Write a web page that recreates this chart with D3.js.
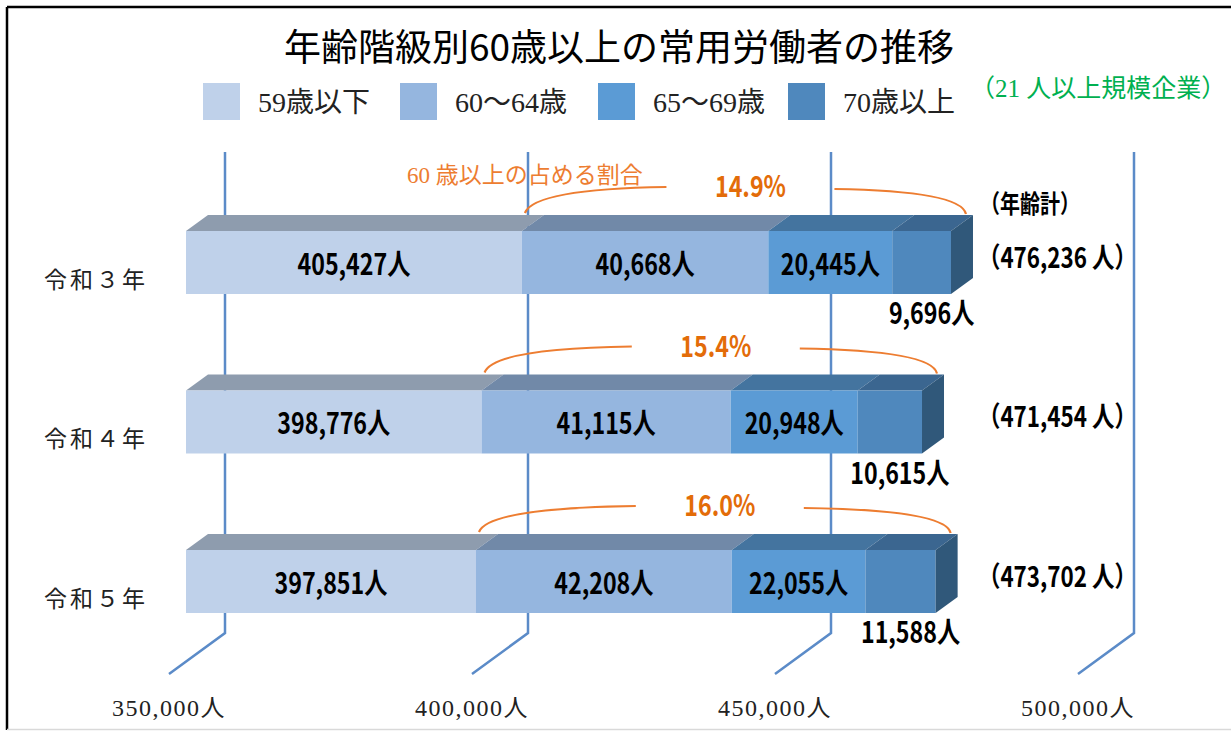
<!DOCTYPE html>
<html>
<head>
<meta charset="utf-8">
<script src="https://cdn.jsdelivr.net/npm/d3@7"></script>
<style>
body { margin: 0; background: #fff; }
svg { display: block; }
.serif { font-family: "Liberation Serif", "Noto Sans CJK JP", serif; }
.gothic { font-family: "Noto Sans CJK JP", sans-serif; font-weight: bold; }
</style>
</head>
<body>
<svg id="chart" width="1231" height="731"></svg>
<script>
// data
var years = ["令和３年", "令和４年", "令和５年"];
var seriesNames = ["59歳以下", "60～64歳", "65～69歳", "70歳以上"];
var under59 = [405427, 398776, 397851];
var age60to64 = [40668, 41115, 42208];
var age65to69 = [20445, 20948, 22055];
var over70 = [9696, 10615, 11588];
var tickValues = [350000, 400000, 450000, 500000];

var frontColors = ["#bfd1ea", "#95b6df", "#5b9bd5", "#4f88bd"];
var topColors = ["#8e9cae", "#7189a8", "#44749f", "#3b6690"];
var sideColor = "#30587a";
var orange = "#ed7d31";
var pctOrange = "#e36c09";

var rows = years.map(function (y, i) {
    return { year: y, s0: under59[i], s1: age60to64[i], s2: age65to69[i], s3: over70[i] };
});
var stack = d3.stack().keys(["s0", "s1", "s2", "s3"]);
var layers = stack(rows);

var svg = d3.select("#chart");

// narrow bold gothic text (squeezed horizontally like the original font)
function gothic(parent, px, py, anchor, size, fill, txt) {
    parent.append("g")
        .attr("transform", "translate(" + px + "," + py + ") scale(0.8,1)")
        .append("text").attr("class", "gothic")
        .attr("text-anchor", anchor).attr("dominant-baseline", "central")
        .attr("font-size", size).attr("fill", fill)
        .text(txt);
}

// frame
svg.append("line").attr("x1", 7).attr("y1", 7).attr("x2", 1231).attr("y2", 7)
    .attr("stroke", "#000").attr("stroke-width", 2.5);
svg.append("line").attr("x1", 7).attr("y1", 7).attr("x2", 7).attr("y2", 730)
    .attr("stroke", "#000").attr("stroke-width", 2.5);
svg.append("line").attr("x1", 7).attr("y1", 729.5).attr("x2", 1231).attr("y2", 729.5)
    .attr("stroke", "#d9d9d9").attr("stroke-width", 1.5);

// scales (front face of bars)
var x = d3.scaleLinear().domain([350000, 500000]).range([186, 1095]);
var y = d3.scalePoint().domain(years).range([231, 550]);
var barH = 63;
var dx = 22, dy = -16;        // bar depth
var wallDx = 39;              // back wall offset from bar front
var gridTop = 152, gridBottom = 633;
var floorDx = -56, floorDy = 41;

// title
svg.append("text").attr("x", 619).attr("y", 45)
    .attr("text-anchor", "middle").attr("dominant-baseline", "central")
    .attr("font-family", "'Noto Sans CJK JP', sans-serif")
    .attr("font-size", 37).attr("fill", "#000")
    .text("年齢階級別60歳以上の常用労働者の推移");

// legend
var legendX = [203, 400, 598, 788];
seriesNames.forEach(function (name, i) {
    svg.append("rect").attr("x", legendX[i]).attr("y", 83)
        .attr("width", 37).attr("height", 37).attr("fill", frontColors[i]);
    svg.append("text").attr("class", "serif")
        .attr("x", legendX[i] + 55).attr("y", 102)
        .attr("dominant-baseline", "central")
        .attr("font-size", 28).attr("fill", "#222")
        .text(name);
});
svg.append("text").attr("x", 970).attr("y", 88)
    .attr("dominant-baseline", "central")
    .attr("font-family", "'Liberation Serif', 'Noto Sans CJK JP', serif")
    .attr("font-size", 25).attr("fill", "#00b050")
    .text("（21 人以上規模企業）");

// gridlines on back wall + floor
var grid = svg.append("g");
tickValues.forEach(function (t) {
    var gx = x(t) + wallDx;
    grid.append("path")
        .attr("d", "M" + gx + "," + gridTop + "L" + gx + "," + gridBottom +
            "L" + (gx + floorDx) + "," + (gridBottom + floorDy))
        .attr("fill", "none").attr("stroke", "#5b8bc8").attr("stroke-width", 2.5);
    grid.append("text").attr("class", "serif")
        .attr("x", gx + floorDx).attr("y", 708)
        .attr("text-anchor", "middle").attr("dominant-baseline", "central")
        .attr("font-size", 24).attr("letter-spacing", 1.5).attr("fill", "#222")
        .text(d3.format(",")(t) + "人");
});

// category labels
years.forEach(function (yr) {
    svg.append("text")
        .attr("x", 96).attr("y", y(yr) + barH / 2 + 15)
        .attr("text-anchor", "middle").attr("dominant-baseline", "central")
        .attr("font-family", "'Noto Sans CJK JP', sans-serif")
        .attr("font-size", 23).attr("letter-spacing", 3).attr("fill", "#222")
        .text(yr);
});

// bars
var bars = svg.append("g");
layers.forEach(function (layer, li) {
    layer.forEach(function (d) {
        var yt = y(d.data.year);
        var x0 = x(Math.max(d[0], 350000)), x1 = x(d[1]);
        bars.append("path")
            .attr("d", "M" + x0 + "," + yt + "L" + x1 + "," + yt + "L" + (x1 + dx) + "," + (yt + dy) +
                "L" + (x0 + dx) + "," + (yt + dy) + "Z")
            .attr("fill", topColors[li]);
        bars.append("rect").attr("x", x0).attr("y", yt)
            .attr("width", x1 - x0).attr("height", barH).attr("fill", frontColors[li]);
        if (li == 3) {
            bars.append("path")
                .attr("d", "M" + x1 + "," + yt + "L" + (x1 + dx) + "," + (yt + dy) +
                    "L" + (x1 + dx) + "," + (yt + barH + dy) + "L" + x1 + "," + (yt + barH) + "Z")
                .attr("fill", sideColor);
        }
        var label = d3.format(",")(d[1] - d[0]) + "人";
        if (li < 3) {
            gothic(bars, (x0 + x1) / 2, yt + barH / 2, "middle", 29, "#000", label);
        } else {
            gothic(bars, (x0 + x1) / 2 + 10, yt + barH + 18, "middle", 29, "#000", label);
        }
    });
});

// totals and share of 60+
gothic(svg, 980, 203, "start", 25, "#000", "（年齢計）");

svg.append("text").attr("x", 407).attr("y", 175)
    .attr("dominant-baseline", "central")
    .attr("font-family", "'Liberation Serif', 'Noto Sans CJK JP', serif")
    .attr("font-size", 23).attr("fill", orange)
    .text("60 歳以上の占める割合");

rows.forEach(function (r) {
    var total = r.s0 + r.s1 + r.s2 + r.s3;
    var yt = y(r.year);
    gothic(svg, 978, yt + barH / 2 - 7, "start", 28, "#000", "（" + d3.format(",")(total) + " 人）");

    var share = (r.s1 + r.s2 + r.s3) / total * 100;
    var left = x(r.s0);
    var right = x(total) + dx;
    var top = yt + dy;
    var mid = (left + dx + right) / 2;
    gothic(svg, mid - 8, top - 30, "middle", 29, pctOrange, share.toFixed(1) + "%");
    svg.append("path")
        .attr("d", "M" + (left + 3) + "," + (top - 2) + "Q" + (left + 12) + "," + (top - 26) +
            " " + (mid - 92) + "," + (top - 28))
        .attr("fill", "none").attr("stroke", orange).attr("stroke-width", 2.2);
    svg.append("path")
        .attr("d", "M" + (mid + 76) + "," + (top - 26) + "Q" + (right - 12) + "," + (top - 24) +
            " " + (right - 7) + "," + (top - 1))
        .attr("fill", "none").attr("stroke", orange).attr("stroke-width", 2.2);
});
</script>
</body>
</html>
